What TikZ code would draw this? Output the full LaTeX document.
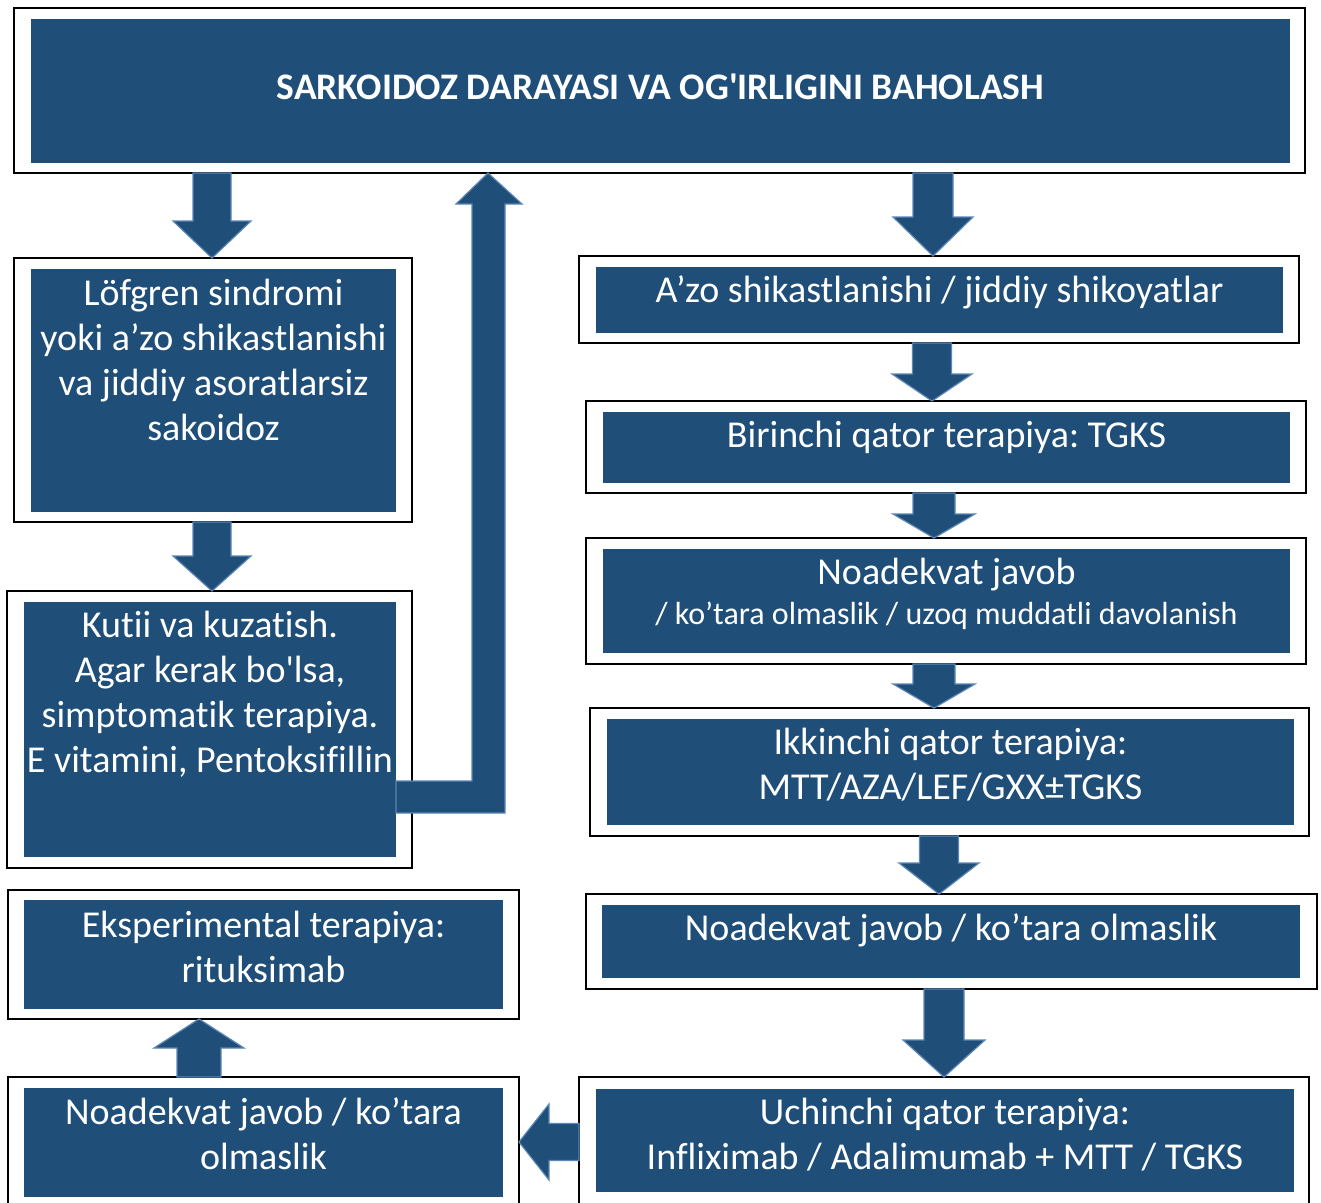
\documentclass[tikz,border=0pt]{standalone}
\usepackage{fontspec}
\setmainfont[Ligatures={TeX,NoCommon}]{Carlito}
\usetikzlibrary{positioning,calc}
\definecolor{boxblue}{HTML}{1F4E79}
\definecolor{edgeblue}{HTML}{5B86B5}
\frenchspacing

% vertical block arrow: x, from, to, half shaft, half head, head length (negative = upwards)
\newcommand{\blockv}[6]{%
  \filldraw[blockarr] let \p1=(#2), \p2=(#3) in
    (#1pt-#4pt,\y1) -- (#1pt+#4pt,\y1) -- (#1pt+#4pt,\y2+#6pt) -- (#1pt+#5pt,\y2+#6pt)
    -- (#1pt,\y2) -- (#1pt-#5pt,\y2+#6pt) -- (#1pt-#4pt,\y2+#6pt) -- cycle;}
% horizontal block arrow: y, from, to, half shaft, half head, head length
\newcommand{\blockh}[6]{%
  \filldraw[blockarr] let \p1=(#2), \p2=(#3) in
    (\x1,-#1pt+#4pt) -- (\x2+#6pt,-#1pt+#4pt) -- (\x2+#6pt,-#1pt+#5pt) -- (\x2,-#1pt)
    -- (\x2+#6pt,-#1pt-#5pt) -- (\x2+#6pt,-#1pt-#4pt) -- (\x1,-#1pt-#4pt) -- cycle;}

\begin{document}
\begin{tikzpicture}[x=1pt, y=-1pt,
  frame/.style={draw=black, line width=1.6pt, inner sep=0pt, outer sep=0pt, anchor=north west},
  panel/.style={fill=boxblue, inner sep=0pt, outer sep=0pt, anchor=north west},
  txt/.style={text=white, align=center, inner sep=0pt, font=\fontsize{38}{45}\selectfont},
  blockarr/.style={fill=boxblue, draw=edgeblue, line width=1.2pt, line join=miter}
]
\useasboundingbox[fill=white] (0,0) rectangle (1321,1202);

\node[frame, minimum width=1291pt, minimum height=165pt] (titleF) at (14,8) {};
\node[panel, minimum width=1259pt, minimum height=144pt] (title) at (31,19) {};
\node[txt, font=\fontsize{37.5}{40}\selectfont\bfseries, below=52pt of title.north] (titleT)
  {\strut SARKOIDOZ DARAYASI VA OG\textquotesingle IRLIGINI BAHOLASH};

\node[frame, minimum width=398pt, minimum height=264pt] (lofF) at (14,258) {};
\node[panel, minimum width=365pt, minimum height=243pt] (lof) at (31,269) {};
\node[txt, below=5pt of lof.north] (lofT)
  {\strut Löfgren sindromi\\ yoki a’zo shikastlanishi\\ va jiddiy asoratlarsiz\\ sakoidoz};

\node[frame, minimum width=405pt, minimum height=277pt] (kutF) at (7,591) {};
\node[panel, minimum width=372pt, minimum height=255pt] (kut) at (24,602) {};
\node[txt, below=4pt of kut.north] (kutT)
  {\strut Kutii va kuzatish.\\ Agar kerak bo\textquotesingle lsa,\\ simptomatik terapiya.\\ E vitamini, Pentoksifillin};

\node[frame, minimum width=511pt, minimum height=129pt] (eksF) at (8,890) {};
\node[panel, minimum width=479pt, minimum height=109pt] (eks) at (24,900) {};
\node[txt, below=6pt of eks.north] (eksT) {\strut Eksperimental terapiya:\\ rituksimab};

\node[frame, minimum width=511pt, minimum height=132pt] (noadcF) at (8,1077) {};
\node[panel, minimum width=479pt, minimum height=109pt] (noadc) at (24,1088) {};
\node[txt, below=5pt of noadc.north] (noadcT) {\strut Noadekvat javob / ko’tara\\ olmaslik};

\node[frame, minimum width=720pt, minimum height=87pt] (azoF) at (579,256) {};
\node[panel, minimum width=687pt, minimum height=66pt] (azo) at (596,267) {};
\node[txt, below=4pt of azo.north] (azoT) {\strut A’zo shikastlanishi / jiddiy shikoyatlar};

\node[frame, minimum width=720pt, minimum height=92pt] (birF) at (586,401) {};
\node[panel, minimum width=687pt, minimum height=71pt] (bir) at (603,412) {};
\node[txt, below=4pt of bir.north] (birT) {\strut Birinchi qator terapiya: TGKS};

\node[frame, minimum width=720pt, minimum height=126pt] (noadaF) at (586,538) {};
\node[panel, minimum width=687pt, minimum height=104pt] (noada) at (603,549) {};
\node[txt, below=4pt of noada.north] (noadaT)
  {\strut Noadekvat javob\\[-5pt] {\fontsize{32}{42}\selectfont / ko’tara olmaslik / uzoq muddatli davolanish}};

\node[frame, minimum width=719pt, minimum height=128pt] (ikkF) at (590,708) {};
\node[panel, minimum width=687pt, minimum height=106pt] (ikk) at (607,719) {};
\node[txt, below=4pt of ikk.north] (ikkT) {\strut Ikkinchi qator terapiya:\\ MTT/AZA/LEF/GXX±TGKS};

\node[frame, minimum width=731pt, minimum height=95pt] (noadbF) at (586,894) {};
\node[panel, minimum width=698pt, minimum height=73pt] (noadb) at (602,905) {};
\node[txt, below=4pt of noadb.north] (noadbT) {\strut Noadekvat javob / ko’tara olmaslik};

\node[frame, minimum width=730pt, minimum height=132pt] (uchF) at (579,1077) {};
\node[panel, minimum width=698pt, minimum height=103pt] (uch) at (596,1089) {};
\node[txt, below=4pt of uch.north] (uchT) {\strut Uchinchi qator terapiya:\\ Infliximab / Adalimumab + MTT / TGKS};

\blockv{212}{titleF.south}{lofF.north}{19}{39}{37}
\blockv{212}{lofF.south}{kutF.north}{19}{39}{35}
\blockv{933}{titleF.south}{azoF.north}{20}{40}{39}
\blockv{932}{azoF.south}{birF.north}{19.5}{40}{27}
\blockv{934}{birF.south}{noadaF.north}{21}{41}{24}
\blockv{934}{noadaF.south}{ikkF.north}{21}{41}{24}
\blockv{939}{ikkF.south}{noadbF.north}{19.5}{40}{31}
\blockv{944}{noadbF.south}{uchF.north}{20}{41}{37}
\blockh{1142}{uchF.west}{noadcF.east}{18.5}{38}{30}
\blockv{199}{noadcF.north}{eksF.south}{22}{45}{-29}
\filldraw[blockarr] let \p1=(kut.east), \p2=(titleF.south) in
  (\x1,-781pt) -- (472pt,-781pt) -- (472pt,-204pt) -- (456pt,-204pt) -- (488pt,\y2)
  -- (522pt,-204pt) -- (505pt,-204pt) -- (505pt,-813pt) -- (\x1,-813pt) -- cycle;
\end{tikzpicture}
\end{document}
